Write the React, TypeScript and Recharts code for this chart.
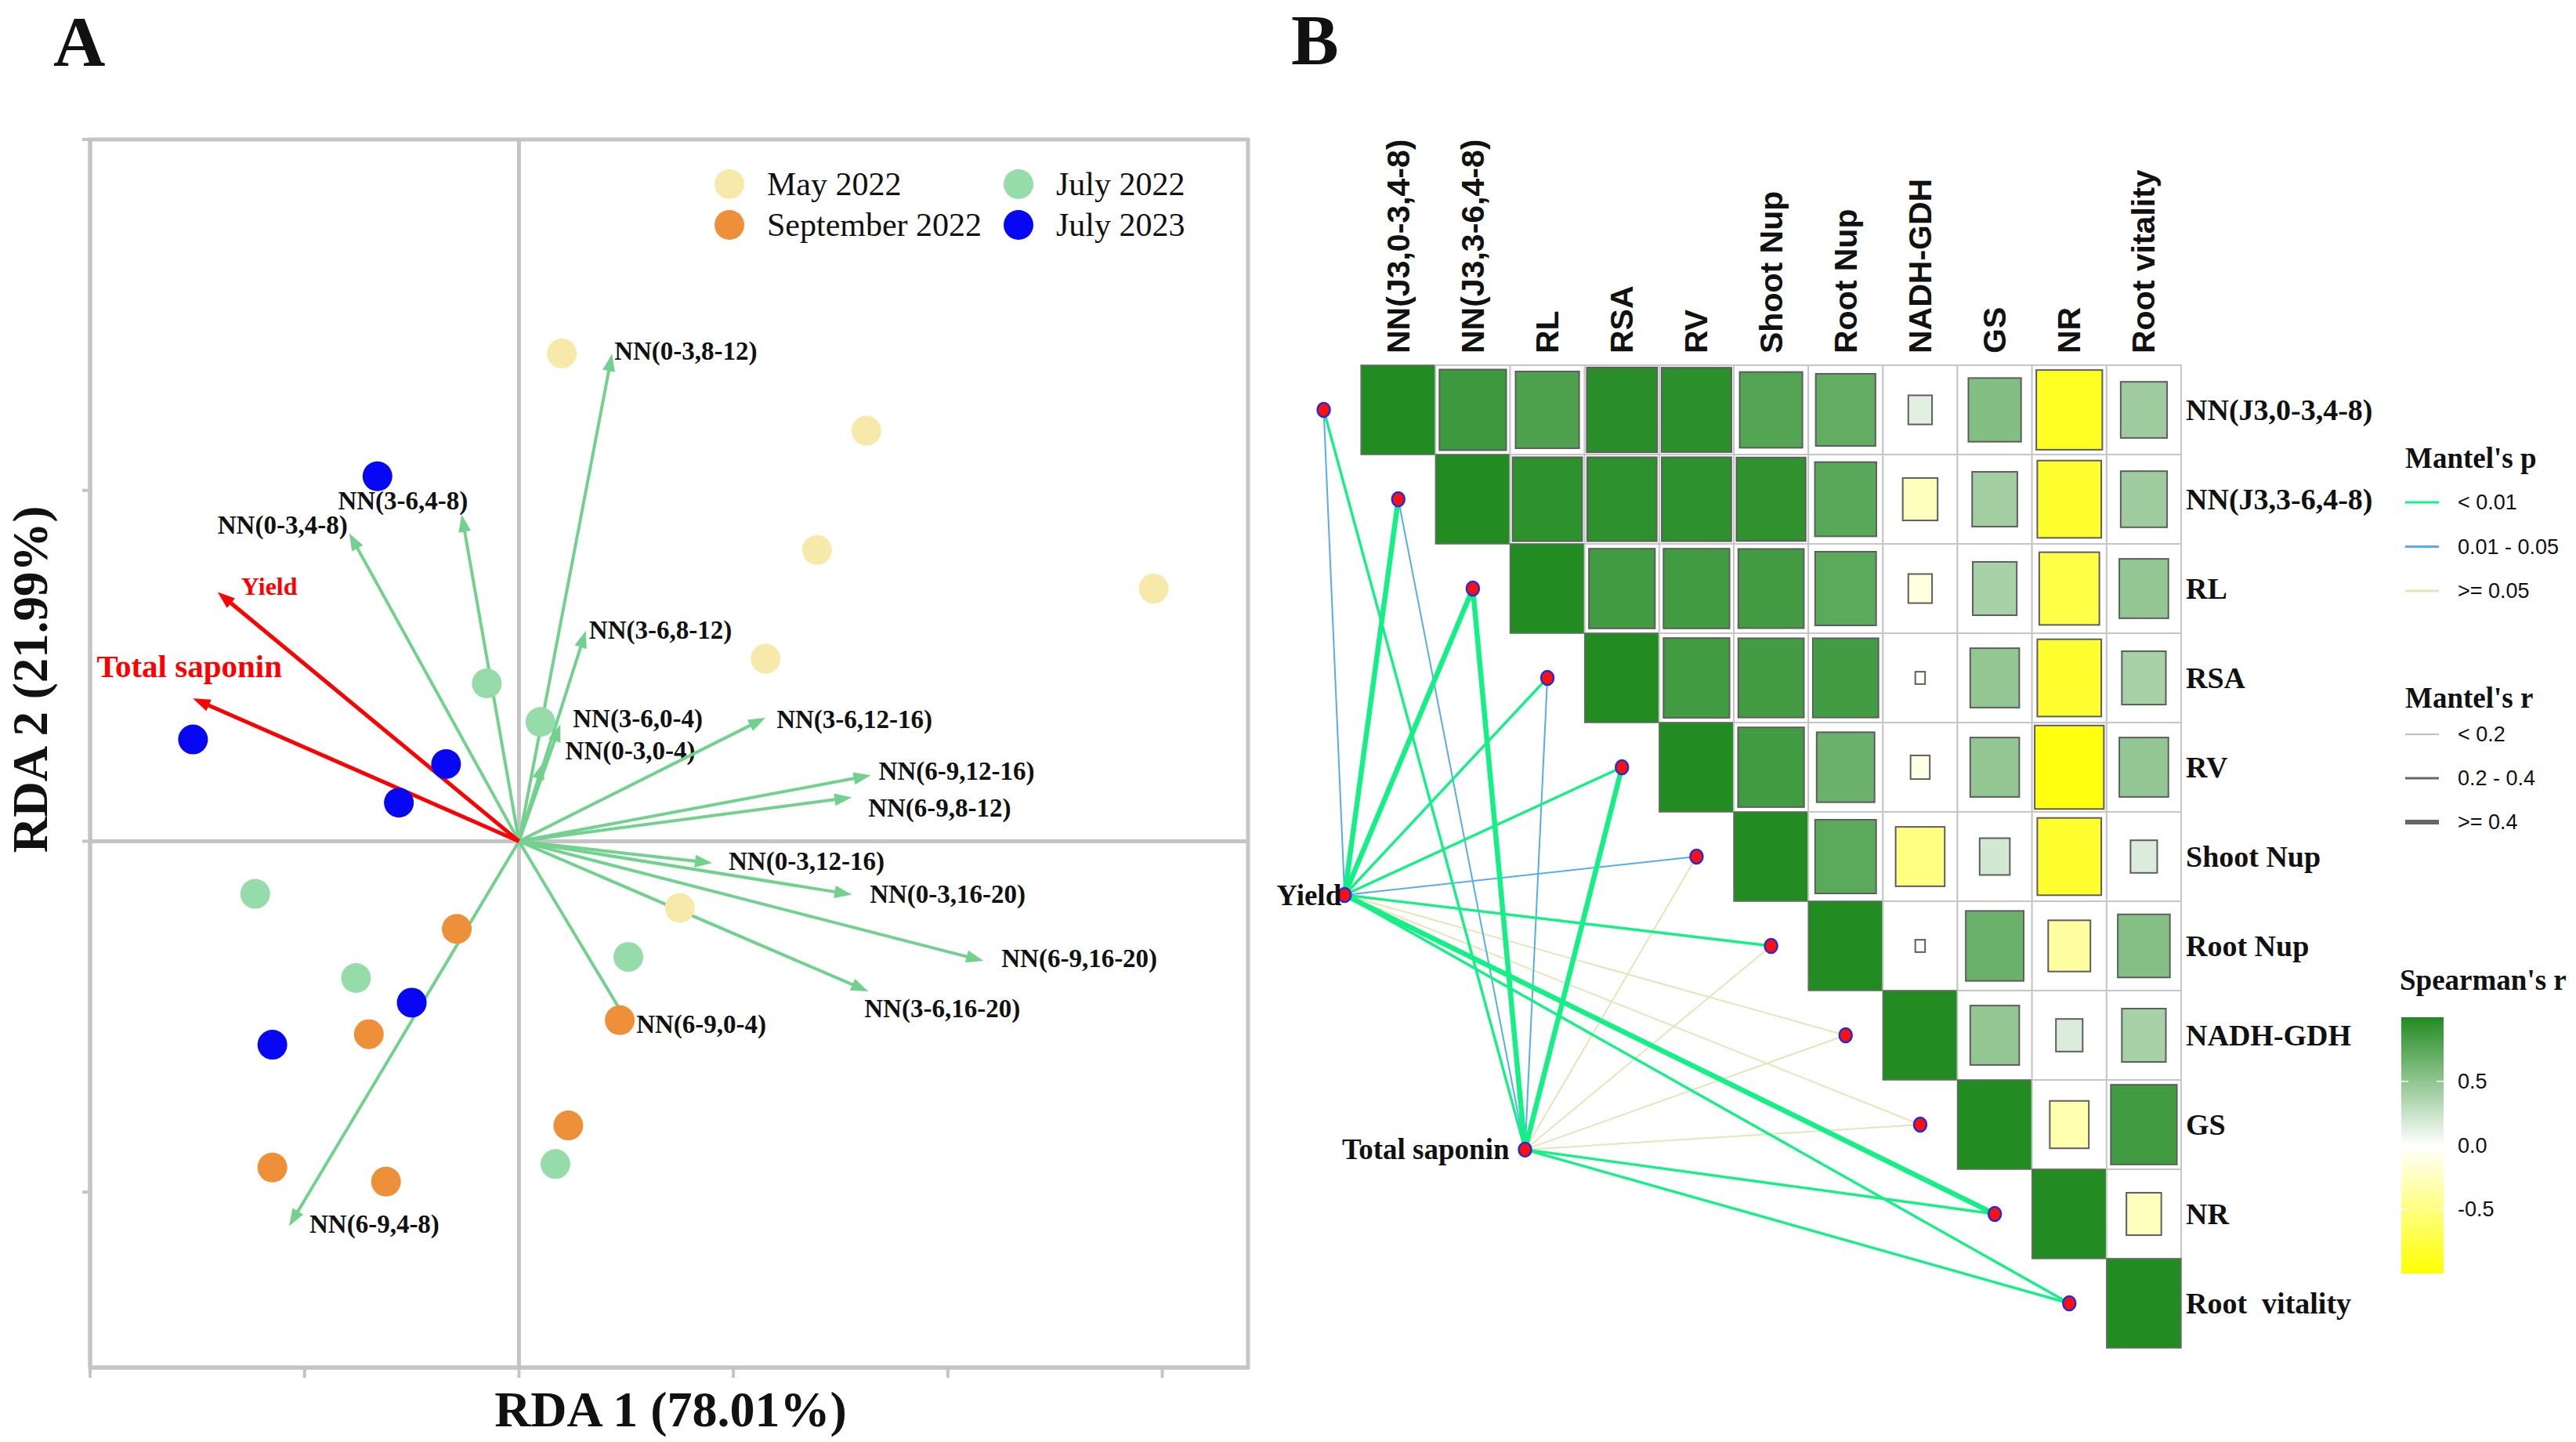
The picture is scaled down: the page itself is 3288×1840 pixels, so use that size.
import React from 'react';
import { ScatterChart, Scatter, XAxis, YAxis, ReferenceLine, ReferenceArea, Legend } from 'recharts';

const SERIF = "'Liberation Serif', 'Times New Roman', Times, serif";
const SANS = "'Liberation Sans', Arial, Helvetica, sans-serif";
const INK = '#111111';
const FRAME = '#c4c4c4';

// ---------------- Panel A: RDA biplot ----------------
const groupNames = ['May 2022', 'July 2022', 'September 2022', 'July 2023'];
const groupColors = ['#f6e9aa', '#96dcab', '#ee8f3a', '#0707f3'];

const may22X = [0.2, 1.62, 1.39, 2.96, 1.15, 0.75];
const may22Y = [1.39, 1.17, 0.83, 0.72, 0.52, -0.19];
const jul22X = [-0.15, 0.1, -1.23, 0.51, -0.76, 0.17];
const jul22Y = [0.45, 0.34, -0.15, -0.33, -0.39, -0.92];
const sep22X = [-0.29, 0.47, -0.7, 0.23, -1.15, -0.62];
const sep22Y = [-0.25, -0.51, -0.55, -0.81, -0.93, -0.97];
const jul23X = [-0.66, -1.52, -0.34, -0.56, -0.5, -1.15];
const jul23Y = [1.04, 0.29, 0.22, 0.11, -0.46, -0.58];

const groupX = [may22X, jul22X, sep22X, jul23X];
const groupY = [may22Y, jul22Y, sep22Y, jul23Y];

// explanatory arrows (biplot scores)
const arrowNames = [
  'NN(0-3,4-8)', 'NN(3-6,4-8)', 'NN(0-3,8-12)', 'NN(3-6,8-12)', 'NN(3-6,0-4)',
  'NN(0-3,0-4)', 'NN(3-6,12-16)', 'NN(6-9,12-16)', 'NN(6-9,8-12)', 'NN(0-3,12-16)',
  'NN(0-3,16-20)', 'NN(6-9,16-20)', 'NN(3-6,16-20)', 'NN(6-9,0-4)', 'NN(6-9,4-8)',
];
const arrowX = [-0.792, -0.267, 0.434, 0.312, 0.193, 0.114, 1.15, 1.641, 1.552, 0.901, 1.552, 2.166, 1.629, 0.518, -1.072];
const arrowY = [0.878, 0.931, 1.389, 0.6, 0.333, 0.225, 0.352, 0.188, 0.125, -0.062, -0.152, -0.341, -0.428, -0.528, -1.097];

// response arrows
const envNames = ['Yield', 'Total saponin'];
const envX = [-1.405, -1.52];
const envY = [0.71, 0.407];

const rdaXTicks = [-2, -1, 0, 1, 2, 3];
const rdaYTicks = [-1, 0, 1, 2];

// label placement relative to the arrow tip: dx, dy, anchor
const ARROW_LABEL: Record<string, [number, number, string]> = {
  'NN(0-3,4-8)': [-2, -10, 'end'],
  'NN(3-6,4-8)': [8, -18, 'end'],
  'NN(0-3,8-12)': [3, -4, 'start'],
  'NN(3-6,8-12)': [4, -1, 'start'],
  'NN(3-6,0-4)': [16, -7, 'start'],
  'NN(0-3,0-4)': [28, -15, 'start'],
  'NN(3-6,12-16)': [14, 2, 'start'],
  'NN(6-9,12-16)': [10, -5, 'start'],
  'NN(6-9,8-12)': [21, 14, 'start'],
  'NN(0-3,12-16)': [21, -2, 'start'],
  'NN(0-3,16-20)': [23, 0, 'start'],
  'NN(6-9,16-20)': [23, -3, 'start'],
  'NN(3-6,16-20)': [-5, 22, 'start'],
  'NN(6-9,0-4)': [8, -3, 'start'],
  'NN(6-9,4-8)': [26, -3, 'start'],
  Yield: [30, -8, 'start'],
  'Total saponin': [-123, -41, 'start'],
};

const noTick = () => <g />;

const makeArrow = (label: string, color: string, width: number, textColor: string, fontSize: number) =>
  (p: any) => {
    const { x1, y1, x2, y2 } = p;
    const a = Math.atan2(y2 - y1, x2 - x1);
    const L = 22;
    const H = 8;
    const bx = x2 - L * Math.cos(a);
    const by = y2 - L * Math.sin(a);
    const nx = -Math.sin(a);
    const ny = Math.cos(a);
    const [dx, dy, anchor] = ARROW_LABEL[label];
    return (
      <g>
        <line x1={x1} y1={y1} x2={bx + 4 * Math.cos(a)} y2={by + 4 * Math.sin(a)} stroke={color} strokeWidth={width} />
        <polygon points={`${x2},${y2} ${bx + nx * H},${by + ny * H} ${bx - nx * H},${by - ny * H}`} fill={color} />
        <text x={x2 + dx} y={y2 + dy} textAnchor={anchor} dominantBaseline="central"
          fontFamily={SERIF} fontWeight="bold" fontSize={fontSize} fill={textColor}>
          {label}
        </text>
      </g>
    );
  };

const LegendA = () => (
  <svg width={740} height={120}>
    {groupNames.map((name, i) => {
      const col = i % 2;
      const row = Math.floor(i / 2);
      const cx = col === 0 ? 26 : 395;
      const cy = row === 0 ? 30 : 82;
      return (
        <g key={name}>
          <circle cx={cx} cy={cy} r={19} fill={groupColors[i]} />
          <text x={cx + 48} y={cy} dominantBaseline="central" fontFamily={SERIF} fontSize={42} fill={INK}>{name}</text>
        </g>
      );
    })}
  </svg>
);

function PanelA() {
  return (
    <ScatterChart width={1640} height={1840} margin={{ top: 178, right: 47, bottom: 55, left: 75 }}>
      <XAxis type="number" dataKey="x" domain={[-2, 3.4]} ticks={rdaXTicks} height={40}
        axisLine={{ stroke: FRAME, strokeWidth: 5 }} tickLine={{ stroke: FRAME, strokeWidth: 4 }}
        tickSize={13} tick={noTick} interval={0} />
      <YAxis type="number" dataKey="y" domain={[-1.5, 2]} ticks={rdaYTicks} width={40}
        axisLine={{ stroke: FRAME, strokeWidth: 5 }} tickLine={{ stroke: FRAME, strokeWidth: 4 }}
        tickSize={10} tick={noTick} interval={0} />
      <ReferenceArea x1={-2} x2={3.4} y1={-1.5} y2={2} fill="none" stroke={FRAME} strokeWidth={5} ifOverflow="visible" />
      <ReferenceLine x={0} stroke={FRAME} strokeWidth={5} />
      <ReferenceLine y={0} stroke={FRAME} strokeWidth={5} />
      {groupNames.map((name, g) => (
        <Scatter key={name} name={name} fill={groupColors[g]} isAnimationActive={false}
          data={groupX[g].map((x, i) => ({ x, y: groupY[g][i] }))}
          shape={(p: any) => <circle cx={p.cx} cy={p.cy} r={19} fill={groupColors[g]} />} />
      ))}
      {arrowNames.map((name, i) => (
        <ReferenceLine key={name} ifOverflow="visible"
          segment={[{ x: 0, y: 0 }, { x: arrowX[i], y: arrowY[i] }]}
          shape={makeArrow(name, '#72d18e', 4, INK, 33)} />
      ))}
      {envNames.map((name, i) => (
        <ReferenceLine key={name} ifOverflow="visible"
          segment={[{ x: 0, y: 0 }, { x: envX[i], y: envY[i] }]}
          shape={makeArrow(name, '#ff0000', 5, '#ff0000', i === 0 ? 32 : 41)} />
      ))}
      <Legend layout="vertical" align="center" verticalAlign="middle"
        wrapperStyle={{ left: 905, top: 205, width: 740 }} content={() => <LegendA />} />
    </ScatterChart>
  );
}

// ---------------- Panel B: Mantel test + Spearman heatmap ----------------
const varNames = ['NN(J3,0-3,4-8)', 'NN(J3,3-6,4-8)', 'RL', 'RSA', 'RV', 'Shoot Nup', 'Root Nup', 'NADH-GDH', 'GS', 'NR', 'Root vitality'];
const rowLabels = ['NN(J3,0-3,4-8)', 'NN(J3,3-6,4-8)', 'RL', 'RSA', 'RV', 'Shoot Nup', 'Root Nup', 'NADH-GDH', 'GS', 'NR', 'Root  vitality'];

// Spearman's r, upper triangle, each row starts on the diagonal
const spearmanR = [
  [1, 0.88, 0.8, 0.97, 0.96, 0.78, 0.71, 0.13, 0.56, -0.86, 0.44],
  [1, 0.95, 0.95, 0.95, 0.94, 0.75, -0.26, 0.42, -0.81, 0.44],
  [1, 0.86, 0.86, 0.85, 0.74, -0.13, 0.4, -0.72, 0.49],
  [1, 0.86, 0.85, 0.85, -0.03, 0.49, -0.81, 0.4],
  [1, 0.86, 0.67, -0.09, 0.49, -0.94, 0.49],
  [1, 0.74, -0.49, 0.2, -0.81, 0.16],
  [1, -0.03, 0.67, -0.37, 0.55],
  [1, 0.49, 0.16, 0.4],
  [1, -0.32, 0.86],
  [1, -0.26],
  [1],
];

// Mantel test: Yield and Total saponin against each variable
const mantelEnv = ['Yield', 'Total saponin'];
const mantelEnvX = [-0.72, 1.7];
const mantelEnvY = [5.43, 8.28];
const yieldMantelR = [0.15, 0.45, 0.48, 0.3, 0.3, 0.12, 0.32, 0.1, 0.1, 0.62, 0.25];
const yieldMantelP = [0.03, 0.001, 0.001, 0.004, 0.004, 0.02, 0.005, 0.2, 0.3, 0.001, 0.006];
const sapMantelR = [0.28, 0.15, 0.45, 0.12, 0.42, 0.08, 0.06, 0.05, 0.07, 0.35, 0.3];
const sapMantelP = [0.006, 0.03, 0.001, 0.04, 0.002, 0.3, 0.4, 0.5, 0.35, 0.002, 0.004];
const mantelR = [yieldMantelR, sapMantelR];
const mantelP = [yieldMantelP, sapMantelP];

const colTicks = varNames.map((_, i) => i);

const B_W = 1688;
const B_H = 1840;
const B_MARGIN = { top: 446, right: 244, bottom: 120, left: 42 };
const B_XAXIS_H = 20;
const B_YAXIS_W = 260;
const CELL_W = (B_W - B_MARGIN.left - B_MARGIN.right - B_YAXIS_W) / 12;
const CELL_H = (B_H - B_MARGIN.top - B_MARGIN.bottom - B_XAXIS_H) / 11;

const GREEN = [34, 139, 34];
const YELLOW = [255, 255, 0];
const rColor = (r: number) => {
  const end = r >= 0 ? GREEN : YELLOW;
  const t = Math.min(1, Math.abs(r));
  const c = end.map((v) => Math.round(255 + (v - 255) * t));
  return `rgb(${c[0]},${c[1]},${c[2]})`;
};

const P_GREEN = '#14ef86';
const P_BLUE = '#56aee6';
const P_PALE = '#e6e4b8';
const pColor = (p: number) => (p < 0.01 ? P_GREEN : p < 0.05 ? P_BLUE : P_PALE);
const rWidth = (r: number) => (r < 0.2 ? 2 : r < 0.4 ? 3.4 : 6.5);

const cells = spearmanR.flatMap((vals, i) => vals.map((r, k) => ({ x: i + k, y: i, r, diag: k === 0 })));
const rowNodes = varNames.map((_, i) => ({ x: i - 1, y: i }));
const envNodes = mantelEnv.map((name, e) => ({ x: mantelEnvX[e], y: mantelEnvY[e], name }));

const mantelLinks = mantelEnv
  .flatMap((_, e) => varNames.map((__, i) => ({ e, i, r: mantelR[e][i], p: mantelP[e][i] })))
  .sort((a, b) => b.p - a.p);

const cellShape = (p: any) => {
  const { cx, cy, payload } = p;
  const x0 = cx - CELL_W / 2;
  const y0 = cy - CELL_H / 2;
  if (payload.diag) {
    return <rect x={x0} y={y0} width={CELL_W} height={CELL_H} fill="#228b22" stroke="#6a6a6a" strokeWidth={1.5} />;
  }
  const s = Math.sqrt(Math.abs(payload.r));
  const w = CELL_W * s;
  const h = CELL_H * s;
  return (
    <g>
      <rect x={x0} y={y0} width={CELL_W} height={CELL_H} fill="#ffffff" stroke="#c6c6c6" strokeWidth={2} />
      <rect x={cx - w / 2 + 2} y={cy - h / 2 + 2} width={w - 4} height={h - 4} fill={rColor(payload.r)} stroke="#5e5e5e" strokeWidth={2} />
    </g>
  );
};

const nodeShape = (p: any) => (
  <ellipse cx={p.cx} cy={p.cy} rx={8} ry={9} fill="#ff1010" stroke="#2a2ad8" strokeWidth={2.5} />
);

const envShape = (p: any) => (
  <g>
    <ellipse cx={p.cx} cy={p.cy} rx={8} ry={9} fill="#ff1010" stroke="#2a2ad8" strokeWidth={2.5} />
    <text x={p.cx - (p.payload.name === 'Yield' ? 4 : 20)} y={p.cy} textAnchor="end" dominantBaseline="central"
      fontFamily={SERIF} fontWeight="bold" fontSize={37} fill={INK}>
      {p.payload.name}
    </text>
  </g>
);

const TopTick = (p: any) => {
  const { x, y, payload } = p;
  return (
    <text x={x} y={y} transform={`rotate(-90 ${x} ${y})`} textAnchor="start" dominantBaseline="central"
      fontFamily={SANS} fontWeight="bold" fontSize={41} fill={INK}>
      {varNames[Math.round(payload.value)]}
    </text>
  );
};

const RightTick = (p: any) => {
  const { x, y, payload } = p;
  return (
    <text x={x} y={y} textAnchor="start" dominantBaseline="central" style={{ whiteSpace: 'pre' }}
      fontFamily={SERIF} fontWeight="bold" fontSize={38} fill={INK}>
      {rowLabels[Math.round(payload.value)]}
    </text>
  );
};

const pLegend = [['< 0.01', P_GREEN], ['0.01 - 0.05', P_BLUE], ['>= 0.05', P_PALE]];
const rLegend = [['< 0.2', 1.5, '#a9a9a9'], ['0.2 - 0.4', 3, '#666666'], ['>= 0.4', 6, '#666666']];
const spearmanTicks = [0.5, 0, -0.5];
const spearmanTickLabels = ['0.5', '0.0', '-0.5'];

const LegendB = () => {
  const barTop = 758;
  const barH = 327;
  const yOf = (v: number) => barTop + ((1 - v) / 2) * barH;
  return (
    <svg width={250} height={1100}>
      <defs>
        <linearGradient id="spearman-grad" x1="0" y1="0" x2="0" y2="1">
          <stop offset="0" stopColor="#228b22" />
          <stop offset="0.5" stopColor="#ffffff" />
          <stop offset="1" stopColor="#ffff00" />
        </linearGradient>
      </defs>
      <text x={30} y={57} fontFamily={SERIF} fontWeight="bold" fontSize={37} fill={INK}>Mantel's p</text>
      {pLegend.map(([label, color], i) => (
        <g key={label}>
          <line x1={30} x2={73} y1={101 + i * 56.5} y2={101 + i * 56.5} stroke={color} strokeWidth={3} />
          <text x={97} y={101 + i * 56.5} dominantBaseline="central" fontFamily={SANS} fontSize={27} fill={INK}>{label}</text>
        </g>
      ))}
      <text x={30} y={363} fontFamily={SERIF} fontWeight="bold" fontSize={37} fill={INK}>Mantel's r</text>
      {rLegend.map(([label, w, color], i) => (
        <g key={label as string}>
          <line x1={30} x2={73} y1={397 + i * 56} y2={397 + i * 56} stroke={color as string} strokeWidth={w as number} />
          <text x={97} y={397 + i * 56} dominantBaseline="central" fontFamily={SANS} fontSize={27} fill={INK}>{label}</text>
        </g>
      ))}
      <text x={23} y={723} fontFamily={SERIF} fontWeight="bold" fontSize={37} fill={INK}>Spearman's r</text>
      <rect x={25} y={barTop} width={54} height={barH} fill="url(#spearman-grad)" />
      {spearmanTicks.map((v, i) => (
        <g key={v}>
          <line x1={25} x2={34} y1={yOf(v)} y2={yOf(v)} stroke="#ffffff" strokeWidth={1.5} />
          <line x1={70} x2={79} y1={yOf(v)} y2={yOf(v)} stroke="#ffffff" strokeWidth={1.5} />
          <text x={97} y={yOf(v)} dominantBaseline="central" fontFamily={SANS} fontSize={27} fill={INK}>{spearmanTickLabels[i]}</text>
        </g>
      ))}
    </svg>
  );
};

function PanelB() {
  return (
    <ScatterChart width={B_W} height={B_H} margin={B_MARGIN}>
      <XAxis orientation="top" type="number" dataKey="x" domain={[-1.5, 10.5]} ticks={colTicks} height={B_XAXIS_H}
        axisLine={false} tickLine={false} tickSize={0} tickMargin={15} tick={TopTick} interval={0} />
      <YAxis orientation="right" type="number" dataKey="y" domain={[-0.5, 10.5]} ticks={colTicks} reversed width={B_YAXIS_W}
        axisLine={false} tickLine={false} tickSize={0} tickMargin={6} tick={RightTick} interval={0} />
      <Scatter data={cells} shape={cellShape} isAnimationActive={false} />
      {mantelLinks.map((l) => (
        <ReferenceLine key={`${l.e}-${l.i}`} ifOverflow="visible"
          segment={[{ x: mantelEnvX[l.e], y: mantelEnvY[l.e] }, { x: l.i - 1, y: l.i }]}
          stroke={pColor(l.p)} strokeWidth={rWidth(l.r)} />
      ))}
      <Scatter data={rowNodes} shape={nodeShape} isAnimationActive={false} />
      <Scatter data={envNodes} shape={envShape} isAnimationActive={false} />
      <Legend layout="vertical" align="center" verticalAlign="middle"
        wrapperStyle={{ left: 1440, top: 540, width: 250 }} content={() => <LegendB />} />
    </ScatterChart>
  );
}

export default function App() {
  return (
    <div style={{ position: 'relative', width: 3288, height: 1840, background: '#ffffff', overflow: 'hidden' }}>
      <style>{'body{margin:0;background:#ffffff}'}</style>
      <div style={{ position: 'absolute', left: 0, top: 0 }}>
        <PanelA />
      </div>
      <div style={{ position: 'absolute', left: 1600, top: 0 }}>
        <PanelB />
      </div>
      <svg width={3288} height={1840} style={{ position: 'absolute', left: 0, top: 0, pointerEvents: 'none' }}>
        <text x={68} y={84} fontFamily={SERIF} fontWeight="bold" fontSize={92} fill={INK}>A</text>
        <text x={1648} y={82} fontFamily={SERIF} fontWeight="bold" fontSize={91} fill={INK}>B</text>
        <text x={856} y={1820} textAnchor="middle" fontFamily={SERIF} fontWeight="bold" fontSize={64} fill={INK}>RDA 1 (78.01%)</text>
        <text x={60} y={867} textAnchor="middle" transform="rotate(-90 60 867)" fontFamily={SERIF} fontWeight="bold" fontSize={63} fill={INK}>RDA 2 (21.99%)</text>
      </svg>
    </div>
  );
}
